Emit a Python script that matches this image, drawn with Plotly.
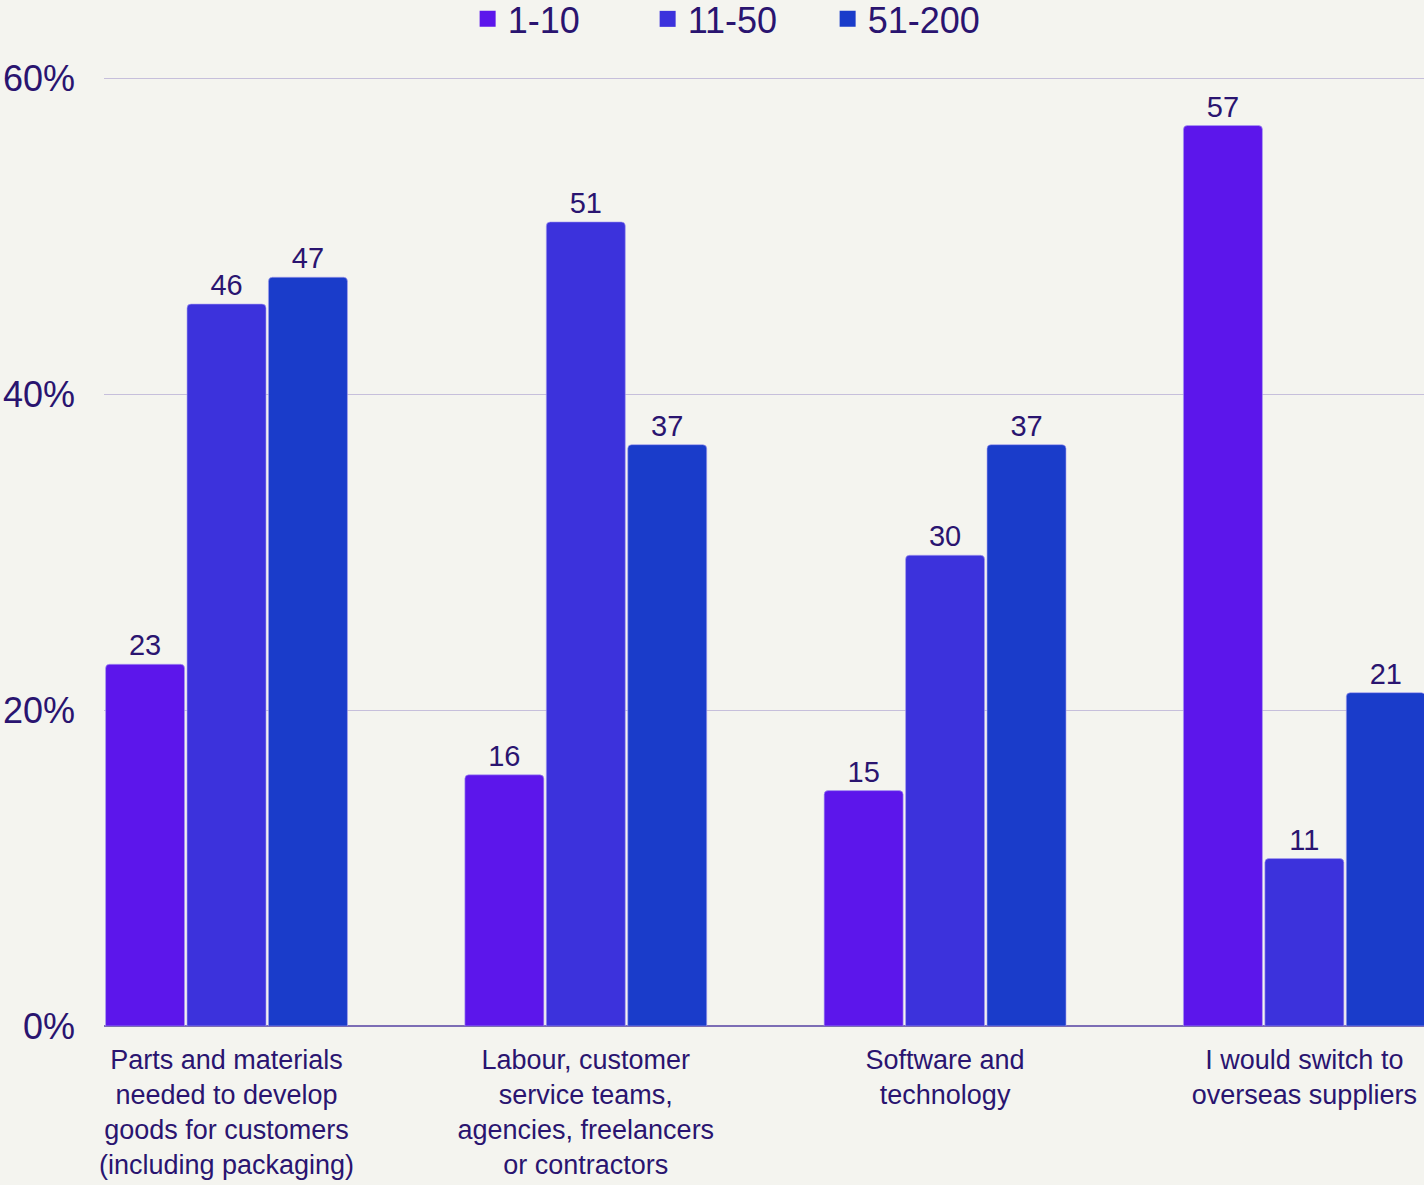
import plotly.graph_objects as go

categories = [
    "Parts and materials<br>needed to develop<br>goods for customers<br>(including packaging)",
    "Labour, customer<br>service teams,<br>agencies, freelancers<br>or contractors",
    "Software and<br>technology",
    "I would switch to<br>overseas suppliers",
]
series_names = ["1-10", "11-50", "51-200"]
values_1_10 = [22.9, 15.9, 14.9, 57.0]
values_11_50 = [45.7, 50.9, 29.8, 10.6]
values_51_200 = [47.4, 36.8, 36.8, 21.1]
colors = ["#5C16EB", "#3C32DC", "#1A3CCA"]
y_ticks = [0, 20, 40, 60]
y_tick_labels = ["0%", "20%", "40%", "60%"]

TEXT = "#2A1470"
FONT = "Liberation Sans, Arial, sans-serif"

fig = go.Figure()
for name, vals, col in zip(series_names, [values_1_10, values_11_50, values_51_200], colors):
    fig.add_trace(go.Bar(
        x=categories, y=vals, name=name, showlegend=False,
        marker=dict(color=col, cornerradius=4, line=dict(color="rgba(170,160,240,0.6)", width=1)),
        texttemplate="%{y:.0f}", textposition="outside", cliponaxis=False,
        textfont=dict(size=29, color=TEXT, family=FONT),
    ))
    fig.add_trace(go.Scatter(
        x=[None], y=[None], mode="markers", name=name, showlegend=True,
        marker=dict(symbol="square", size=18, color=col),
    ))

fig.update_layout(
    width=1424, height=1185,
    margin=dict(l=104, r=0, t=75, b=159),
    paper_bgcolor="#F4F4EF", plot_bgcolor="#F4F4EF",
    font=dict(family=FONT, color=TEXT),
    barmode="group", bargap=0.32, bargroupgap=0.03,
    legend=dict(
        orientation="h", xref="container", yref="container",
        x=0.518, xanchor="center", y=0.984, yanchor="middle",
        font=dict(size=36, color=TEXT, family=FONT),
        entrywidth=135, entrywidthmode="pixels",
        bgcolor="rgba(0,0,0,0)",
    ),
    xaxis=dict(
        type="category", range=[-0.341, 3.333], showgrid=False,
        tickfont=dict(size=27, color=TEXT, family=FONT),
        ticks="", showline=False, zeroline=False,
        ticklabelstandoff=15,
    ),
    yaxis=dict(
        range=[0, 60.2], tickmode="array", tickvals=y_ticks, ticktext=y_tick_labels,
        tickfont=dict(size=36, color=TEXT, family=FONT),
        gridcolor="#C6BFDB", gridwidth=1,
        zeroline=True, zerolinecolor="#7C6DB5", zerolinewidth=2,
        ticklabelstandoff=28, showline=False,
    ),
)

fig.write_html("out.html")
